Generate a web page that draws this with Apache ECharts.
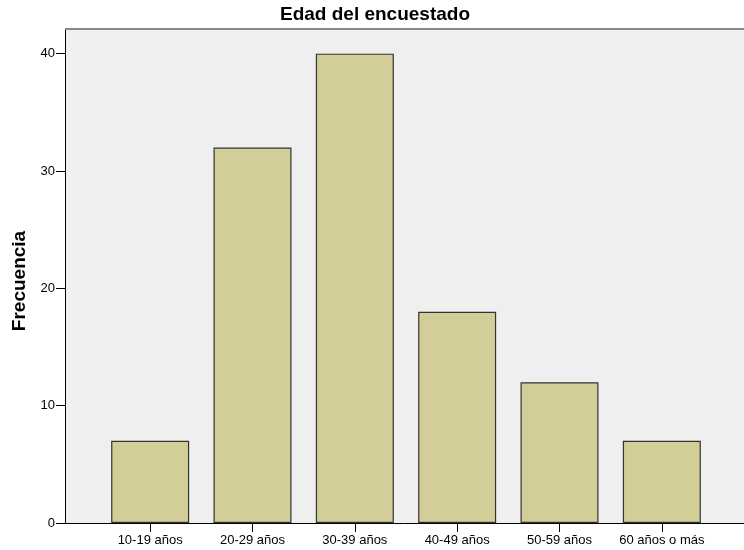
<!DOCTYPE html>
<html>
<head>
<meta charset="utf-8">
<script src="https://cdn.jsdelivr.net/npm/echarts@6/dist/echarts.min.js"></script>
<style>
  html, body { margin: 0; padding: 0; background: #fff; }
  #chart { width: 744px; height: 550px; }
</style>
</head>
<body>
<div id="chart"></div>
<script>
const categories = ["10-19 años", "20-29 años", "30-39 años", "40-49 años", "50-59 años", "60 años o más"];
const frecuencia = [7, 32, 40, 18, 12, 7];
const yTicks = [0, 10, 20, 30, 40];

const font = "Liberation Sans, Arial, sans-serif";
const chart = echarts.init(document.getElementById("chart"));

chart.setOption({
  animation: false,
  title: {
    text: "Edad del encuestado",
    left: 375,
    top: 5,
    padding: 0,
    textAlign: "center",
    textStyle: { fontFamily: font, fontSize: 19, fontWeight: "bold", color: "#000" }
  },
  grid: [
    // frame + y axis
    { left: 65, right: 0, top: 29, bottom: 27, show: true, backgroundColor: "#efefef", borderWidth: 0 },
    // bars
    { left: 99, right: 31, top: 29, bottom: 27 }
  ],
  xAxis: [
    {
      gridIndex: 0, type: "value", min: 0, max: 1,
      axisLine: { show: true, onZero: false, lineStyle: { color: "#000", width: 1 } },
      axisTick: { show: false }, axisLabel: { show: false }, splitLine: { show: false }
    },
    {
      gridIndex: 1, type: "category", data: categories,
      axisLine: { show: false },
      axisTick: { show: true, alignWithLabel: true, length: 9, lineStyle: { color: "#000" } },
      axisLabel: { fontFamily: font, fontSize: 13, color: "#000", margin: 11, interval: 0 }
    }
  ],
  yAxis: [
    {
      gridIndex: 0, type: "value", min: 0, max: 42.1, interval: 10,
      axisLine: { show: true, lineStyle: { color: "#000", width: 1 } },
      axisTick: { show: true, length: 9, lineStyle: { color: "#000" }, customValues: yTicks },
      axisLabel: { fontFamily: font, fontSize: 13, color: "#000", margin: 10, customValues: yTicks },
      splitLine: { show: false }
    },
    {
      gridIndex: 1, type: "value", min: 0, max: 42.1, show: false
    }
  ],
  graphic: [
    { type: "line", shape: { x1: 65, y1: 29, x2: 744, y2: 29 }, style: { stroke: "#888", lineWidth: 2 }, z: 10 },
    {
      type: "text", x: 20, y: 281, rotation: Math.PI / 2,
      style: {
        text: "Frecuencia", fontFamily: font, fontSize: 19, fontWeight: "bold", fill: "#000",
        align: "center", verticalAlign: "middle"
      }
    }
  ],
  series: [{
    type: "bar",
    xAxisIndex: 1,
    yAxisIndex: 1,
    data: frecuencia,
    barWidth: 78,
    itemStyle: { color: "#d3ce97", borderColor: "#333", borderWidth: 1.2 }
  }]
});
</script>
</body>
</html>
